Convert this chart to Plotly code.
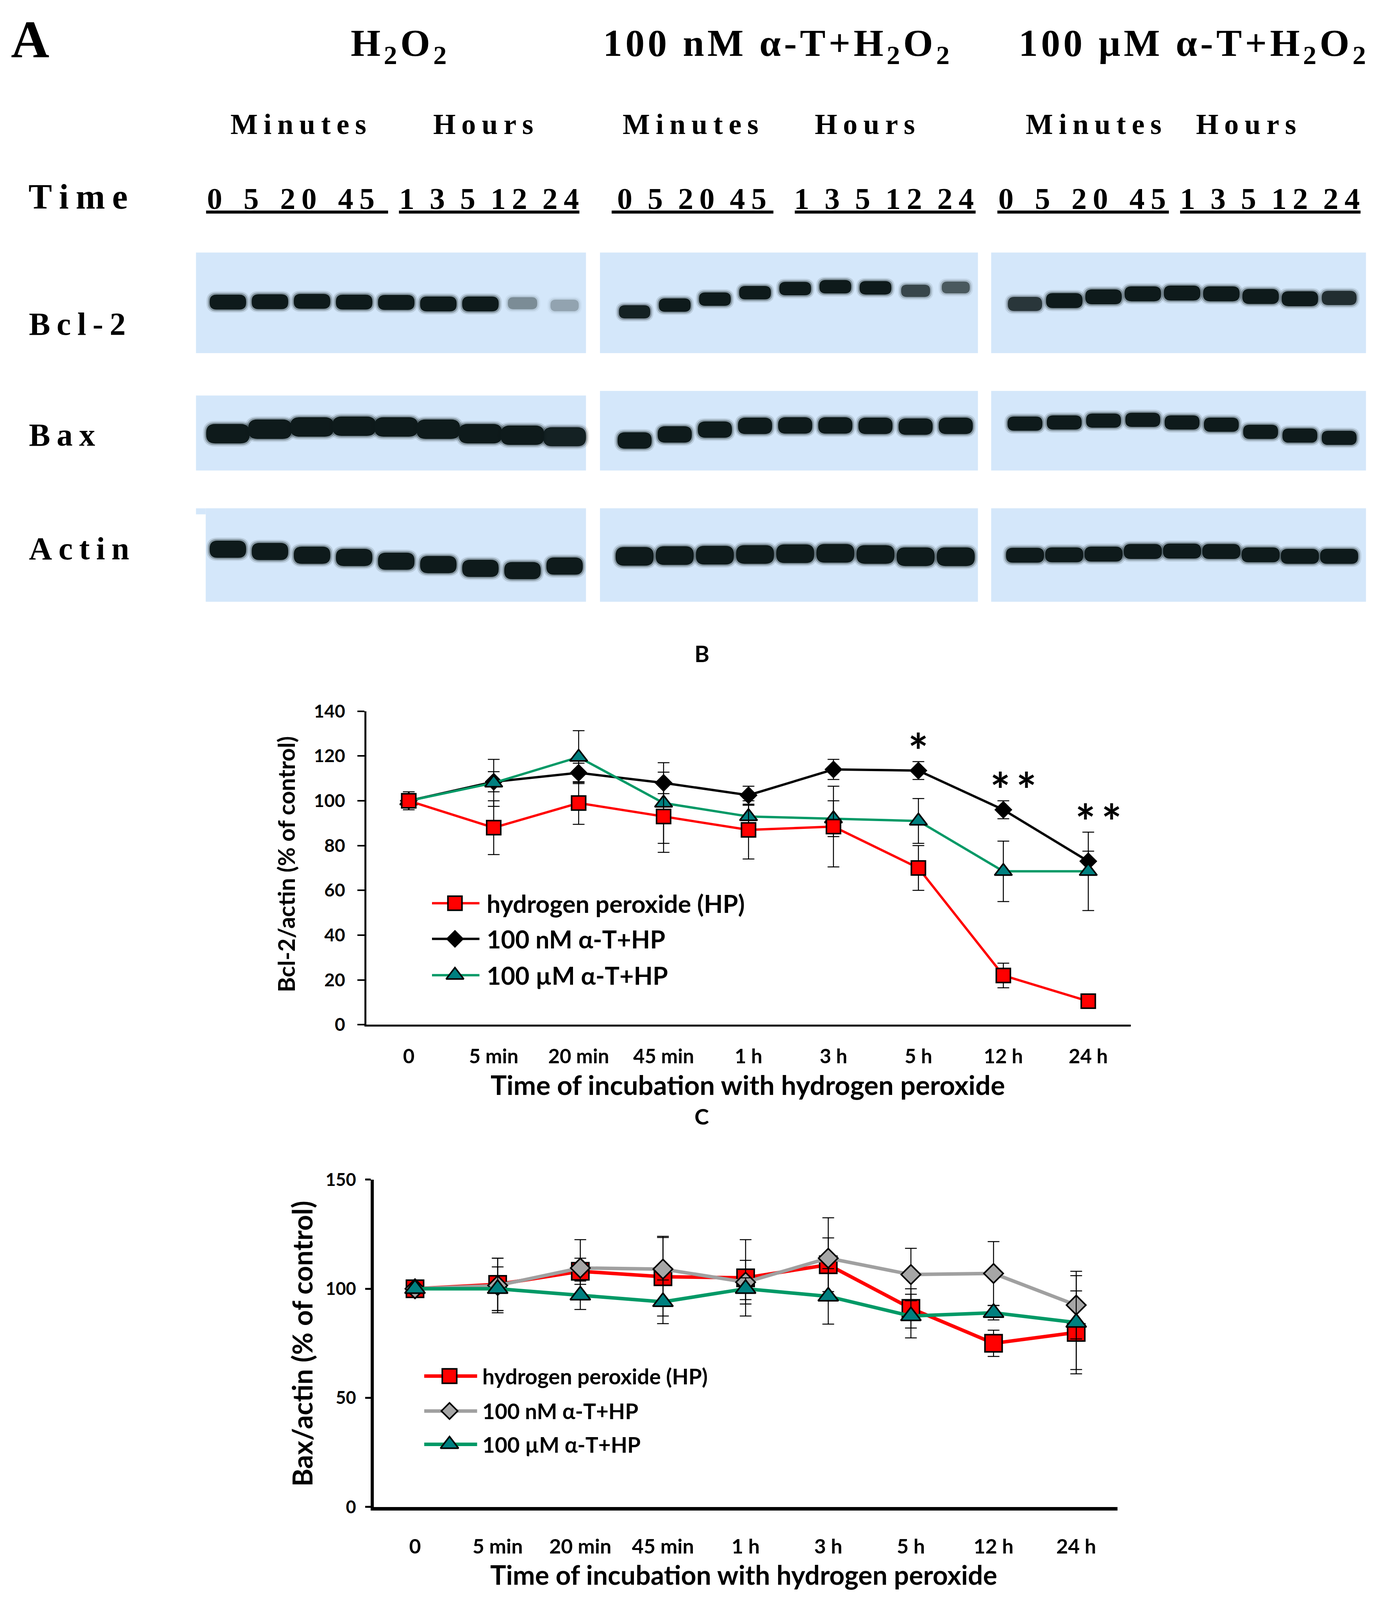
import numpy as np
import plotly.graph_objects as go

# reference canvas size (all layout numbers below are in these pixels)
W, H = 3551, 4203
# drawn size: fits inside the visible page area
FIG_W, FIG_H = 3535, 4090

# ---------------- data: panels B and C ----------------
time_labels = ["0", "5 min", "20 min", "45 min", "1 h", "3 h", "5 h", "12 h", "24 h"]

bcl2_hp = [100, 88, 99, 93, 87, 88.5, 70, 22, 10.5]
bcl2_hp_err = [4, 12, 9.5, 16, 13, 18, 10, 5.5, 1]
bcl2_nm = [100, 108.5, 112.5, 108, 102.5, 114, 113.5, 96, 73]
bcl2_nm_err = [3, 4.5, 4.3, 4.8, 4, 4.5, 4, 4, 4.5]
bcl2_um = [100, 108, 119.5, 99, 93, 92, 91, 68.5, 68.5]
bcl2_um_err = [3, 10.5, 11.8, 18, 5, 8, 10, 13.5, 17.5]

bax_hp = [100, 102, 108, 105.5, 105, 111, 91, 75, 80]
bax_hp_err = [1, 12, 6, 18, 17.5, 12.3, 9, 6, 19]
bax_nm = [100, 101.5, 109.5, 109, 103, 114, 106.5, 107, 92.5]
bax_nm_err = [1, 12.5, 13, 15, 10, 18.5, 12, 14.6, 15.5]
bax_um = [100, 100, 97, 94, 100, 96.5, 87.5, 89, 84.5]
bax_um_err = [1, 10, 6.5, 10, 5, 12.7, 10, 3.3, 21.5]

series_names = ["hydrogen peroxide (HP)", "100 nM α-T+HP", "100 µM α-T+HP"]
bcl2_stars = ["", "", "", "", "", "", "*", "**", "**"]

# ---------------- data: panel A (western blots) ----------------
group_prefix = ["", "100 nM α-T+", "100 µM α-T+"]
row_labels = ["Bcl-2", "Bax", "Actin"]
minute_lanes = ["0", "5", "20", "45"]
hour_lanes = ["1", "3", "5", "12", "24"]

# band centre (px down the sheet) and darkness per lane, for each treatment group
bcl2_band_y = [[767, 766, 765, 767, 768, 772, 772, 770, 776],
               [793, 775, 759, 742, 731, 726, 729, 737, 728],
               [772, 763, 753, 745, 743, 745, 752, 758, 756]]
bcl2_band_i = [[1, 1, 1, 1, 1, 1, 1, 0.35, 0.25],
               [0.95, 1, 1, 1, 1, 1, 1, 0.7, 0.6],
               [0.8, 1, 1, 1, 1, 1, 1, 1, 0.85]]
bax_band_y = [[1118, 1106, 1100, 1098, 1100, 1106, 1118, 1122, 1126],
              [1136, 1120, 1107, 1097, 1096, 1096, 1097, 1099, 1097],
              [1091, 1088, 1083, 1081, 1088, 1094, 1113, 1123, 1129]]
bax_band_i = [[1, 1, 1, 1, 1, 1, 1, 1, 0.95],
              [1, 1, 1, 1, 1, 1, 1, 1, 1],
              [1, 1, 1, 1, 1, 1, 1, 1, 1]]
actin_band_y = [[1426, 1432, 1442, 1448, 1458, 1467, 1477, 1483, 1471],
                [1445, 1443, 1442, 1440, 1438, 1437, 1440, 1446, 1446],
                [1442, 1441, 1439, 1432, 1431, 1432, 1441, 1445, 1445]]
actin_band_i = [[1, 1, 1, 1, 1, 1, 1, 1, 1],
                [1, 1, 1, 1, 1, 1, 1, 1, 1],
                [1, 1, 1, 1, 1, 1, 1, 1, 1]]

# ---------------- layout geometry ----------------
SANS = "Lato"
SERIF = "Liberation Serif"
RED, GREEN, TEAL, GREY = "#ff0000", "#009966", "#008080", "#a6a6a6"
BLOT_BG = "#d4e7fa"
BAND = "#0e1a1b"

blot_x = [(496, 1499), (1535, 2507), (2541, 3505)]
lane_x = [(578, 1444), (1624, 2450), (2628, 3436)]
row_y = [[(635, 903)] * 3,
         [(1016, 1216), (1004, 1216), (1004, 1216)],
         [(1317, 1566)] * 3]
band_wh = [[(94, 40), (82, 36), (94, 40)],
           [(112, 52), (88, 44), (90, 38)],
           [(94, 46), (98, 50), (98, 40)]]
band_y = [bcl2_band_y, bax_band_y, actin_band_y]
band_i = [bcl2_band_i, bax_band_i, actin_band_i]


def thin(s):
    return "\u2009".join(s)


def chem_title(prefix):
    parts = list(prefix) + ["H", "<sub>2</sub>", "O", "<sub>2</sub>"]
    return "\u200a".join(parts)


def band_path(cx, cy, w, h):
    x0, x1, y0, y1 = cx - w / 2, cx + w / 2, cy - h / 2, cy + h / 2
    r = h * 0.45
    return (f"M{x0 + r},{y0} L{x1 - r},{y0} Q{x1},{y0} {x1},{y0 + r} "
            f"L{x1},{y1 - r} Q{x1},{y1} {x1 - r},{y1} L{x0 + r},{y1} "
            f"Q{x0},{y1} {x0},{y1 - r} L{x0},{y0 + r} Q{x0},{y0} {x0 + r},{y0} Z")


shapes = []
annotations = []

# blots
for r in range(3):
    for g in range(3):
        y0, y1 = row_y[r][g]
        bx0, bx1 = blot_x[g]
        if r == 2 and g == 0:
            shapes.append(dict(type="rect", xref="x3", yref="y3", x0=bx0 + 25, x1=bx1,
                               y0=y0, y1=y1, fillcolor=BLOT_BG, line_width=0, layer="below"))
            shapes.append(dict(type="rect", xref="x3", yref="y3", x0=bx0, x1=bx0 + 25,
                               y0=y0, y1=y0 + 16, fillcolor=BLOT_BG, line_width=0, layer="below"))
        else:
            shapes.append(dict(type="rect", xref="x3", yref="y3", x0=bx0, x1=bx1,
                               y0=y0, y1=y1, fillcolor=BLOT_BG, line_width=0, layer="below"))
        xs_lane = np.linspace(lane_x[g][0], lane_x[g][1], 9)
        w, h = band_wh[r][g]
        for k in range(9):
            inten = band_i[r][g][k]
            sc = 0.7 + 0.3 * inten
            cy = band_y[r][g][k]
            for grow, op in ((16, 0.12), (8, 0.3), (0, 1.0)):
                shapes.append(dict(type="path", xref="x3", yref="y3",
                                   path=band_path(xs_lane[k], cy, w * sc + grow, h * sc + grow),
                                   fillcolor=BAND, opacity=op * inten, line_width=0))

# panel A text
annotations.append(dict(x=69, y=67, text="A", font=dict(family=SERIF, size=136, weight="bold")))
title_x = [1018, 1988, 3058]
minutes_x = [759, 1768, 2805]
hours_x = [1235, 2216, 3197]
min_num_x = [740, 1771, 2775]
hr_num_x = [1250, 2265, 3258]
min_line = [(522, 990), (1565, 1981), (2557, 2998)]
hr_line = [(1018, 1482), (2036, 2501), (3027, 3491)]
min_gap = ["\u2002\u2009", "\u2002", "\u2002\u2009"]
for g in range(3):
    annotations.append(dict(x=title_x[g], y=84, text=chem_title(group_prefix[g]),
                            font=dict(family=SERIF, size=98, weight="bold")))
    annotations.append(dict(x=minutes_x[g], y=293, text=thin("Minutes"),
                            font=dict(family=SERIF, size=74, weight="bold")))
    annotations.append(dict(x=hours_x[g], y=293, text=thin("Hours"),
                            font=dict(family=SERIF, size=74, weight="bold")))
    annotations.append(dict(x=min_num_x[g], y=491,
                            text=min_gap[g].join(thin(t) for t in minute_lanes),
                            font=dict(family=SERIF, size=78, weight="bold")))
    annotations.append(dict(x=hr_num_x[g], y=491,
                            text="\u2002".join(thin(t) for t in hour_lanes),
                            font=dict(family=SERIF, size=78, weight="bold")))
    for a, b in (min_line[g], hr_line[g]):
        shapes.append(dict(type="rect", xref="x3", yref="y3", x0=a, x1=b, y0=523, y1=531,
                           fillcolor="black", line_width=0))
annotations.append(dict(x=63, y=486, text=thin("Time"), xanchor="left",
                        font=dict(family=SERIF, size=90, weight="bold")))
for lab, yy in zip(row_labels, [826, 1121, 1424]):
    annotations.append(dict(x=64, y=yy, text=thin(lab), xanchor="left",
                            font=dict(family=SERIF, size=82, weight="bold")))

# panel letters and axis titles
annotations += [
    dict(x=1797, y=1704, text="B", font=dict(family=SANS, size=58, weight="bold")),
    dict(x=1797, y=2938, text="C", font=dict(family=SANS, size=56, weight="bold")),
    dict(x=1915, y=2854, text="Time of incubation with hydrogen peroxide",
         font=dict(family=SANS, size=69, weight="bold")),
    dict(x=1905, y=4160, text="Time of incubation with hydrogen peroxide",
         font=dict(family=SANS, size=68, weight="bold")),
    dict(x=728, y=2266, text="Bcl-2/actin (% of control)", textangle=-90,
         font=dict(family=SANS, size=59, weight="bold")),
    dict(x=769, y=3545, text="Bax/actin (% of control)", textangle=-90,
         font=dict(family=SANS, size=70, weight="bold")),
]
for a in annotations:
    a.setdefault("xref", "x3")
    a.setdefault("yref", "y3")
    a.setdefault("showarrow", False)
    a["font"].setdefault("color", "black")

# significance stars on panel B
for k, s in enumerate(bcl2_stars):
    if s:
        top = max(bcl2_hp[k] + bcl2_hp_err[k], bcl2_nm[k] + bcl2_nm_err[k], bcl2_um[k] + bcl2_um_err[k])
        annotations.append(dict(x=k + (0.12 if len(s) > 1 else 0), y=top + 5, xref="x", yref="y",
                                text="\u2009".join(s), showarrow=False, yanchor="middle",
                                font=dict(family=SANS, size=122, weight="bold", color="black")))

xs = list(range(len(time_labels)))


def series(y, err, lc, lw, sym, size, fill, xa, ya):
    return go.Scatter(x=xs, y=y, mode="lines+markers", xaxis=xa, yaxis=ya, showlegend=False,
                      line=dict(color=lc, width=lw),
                      marker=dict(symbol=sym, size=size, color=fill, line=dict(color="black", width=4)),
                      error_y=dict(type="data", array=err, color="black", thickness=2.5, width=15))


traces = [
    # panel B (black, green, red drawing order)
    series(bcl2_nm, bcl2_nm_err, "black", 6, "diamond", 31, "black", "x", "y"),
    series(bcl2_um, bcl2_um_err, GREEN, 6, "triangle-up", 39, TEAL, "x", "y"),
    series(bcl2_hp, bcl2_hp_err, RED, 6, "square", 36, RED, "x", "y"),
    # panel C
    series(bax_hp, bax_hp_err, RED, 9, "square", 44, RED, "x2", "y2"),
    series(bax_nm, bax_nm_err, "#a0a0a0", 9, "diamond", 38, GREY, "x2", "y2"),
    series(bax_um, bax_um_err, GREEN, 9, "triangle-up", 45, TEAL, "x2", "y2"),
]

# hand-placed legends (long line samples as in the original)
leg_b = dict(x0=1103, x1=1225, xm=1162, xt=1242, ys=[2370, 2465, 2562], lw=6, fs=63,
             styles=[(RED, "square", 36, RED), ("black", "diamond", 31, "black"),
                     (GREEN, "triangle-up", 39, TEAL)])
leg_c = dict(x0=1083, x1=1219, xm=1148, xt=1231, ys=[3631, 3724, 3813], lw=9, fs=55,
             styles=[(RED, "square", 37, RED), ("#a0a0a0", "diamond", 32, GREY),
                     (GREEN, "triangle-up", 40, TEAL)])
for leg in (leg_b, leg_c):
    for name, yy, (lc, sym, size, fill) in zip(series_names, leg["ys"], leg["styles"]):
        traces.append(go.Scatter(x=[leg["x0"], leg["x1"]], y=[yy, yy], mode="lines", xaxis="x3", yaxis="y3",
                                 line=dict(color=lc, width=leg["lw"]), showlegend=False, hoverinfo="skip"))
        traces.append(go.Scatter(x=[leg["xm"]], y=[yy], mode="markers", xaxis="x3", yaxis="y3",
                                 marker=dict(symbol=sym, size=size, color=fill, line=dict(color="black", width=4)),
                                 showlegend=False, hoverinfo="skip"))
        annotations.append(dict(x=leg["xt"], y=yy, xref="x3", yref="y3", text=name, showarrow=False,
                                xanchor="left", font=dict(family=SANS, size=leg["fs"], weight="bold", color="black")))

fig = go.Figure(data=traces)


def px_dom_x(a, b):
    return [a / W, b / W]


def px_dom_y(top, bottom):
    return [1 - bottom / H, 1 - top / H]


tick_x = dict(tickmode="array", tickvals=xs, ticktext=time_labels, range=[-0.5, len(xs) - 0.5],
              showgrid=False, zeroline=False, showline=True, linecolor="black", ticks="")
tick_y = dict(showgrid=False, zeroline=False, showline=True, linecolor="black", ticks="outside",
              tickcolor="black")

fig.update_layout(
    width=FIG_W, height=FIG_H, margin=dict(l=0, r=0, t=0, b=0),
    paper_bgcolor="white", plot_bgcolor="rgba(0,0,0,0)",
    showlegend=False,
    xaxis=dict(**tick_x, domain=px_dom_x(934, 2900), anchor="y", linewidth=5,
               tickfont=dict(family=SANS, size=51, weight="bold", color="black"), ticklabelstandoff=32),
    yaxis=dict(**tick_y, domain=px_dom_y(1858, 2694), anchor="x", range=[0, 140], dtick=20,
               linewidth=5, ticklen=18, tickwidth=4,
               tickfont=dict(family=SANS, size=46, weight="bold", color="black"), ticklabelstandoff=22),
    xaxis2=dict(**tick_x, domain=px_dom_x(953, 2866), anchor="y2", linewidth=9,
                tickfont=dict(family=SANS, size=52, weight="bold", color="black"), ticklabelstandoff=48),
    yaxis2=dict(**tick_y, domain=px_dom_y(3107, 3980), anchor="x2", range=[0, 150], dtick=50,
                linewidth=8, ticklen=14, tickwidth=5,
                tickfont=dict(family=SANS, size=45, weight="bold", color="black"), ticklabelstandoff=14),
    xaxis3=dict(domain=[0, 1], range=[0, W], visible=False, anchor="y3"),
    yaxis3=dict(domain=[0, 1], range=[H, 0], visible=False, anchor="x3"),
    shapes=shapes,
    annotations=annotations,
)

fig.write_html("out.html")
